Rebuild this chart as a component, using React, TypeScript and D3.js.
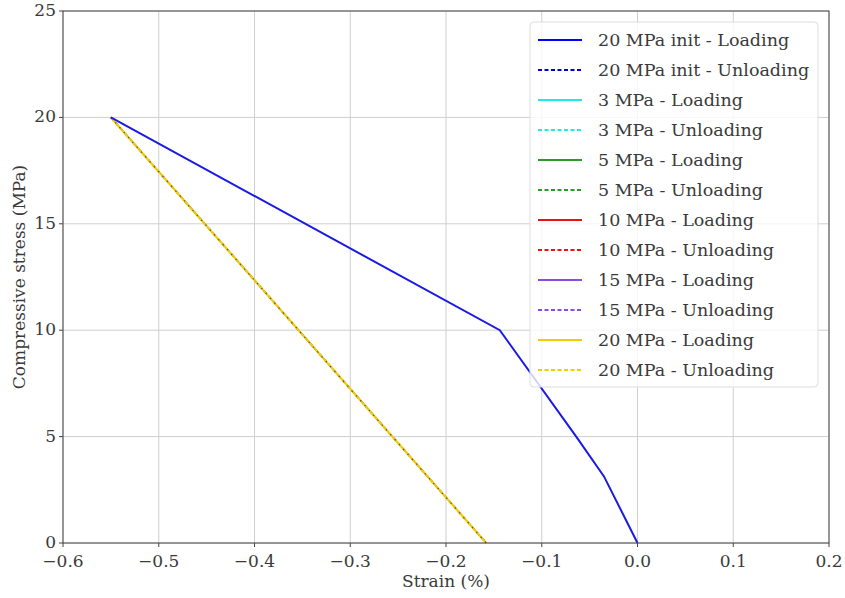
import React from "react";
import * as d3 from "d3";

const xTicks = [-0.6, -0.5, -0.4, -0.3, -0.2, -0.1, 0.0, 0.1, 0.2];
const yTicks = [0, 5, 10, 15, 20, 25];

// 20 MPa init loading (strain %, stress MPa)
const initLoadStrain = [0.0, -0.035, -0.064, -0.1438, -0.55];
const initLoadStress = [0, 3.13, 5.0, 10.0, 20.0];
// 20 MPa init unloading
const initUnloadStrain = [-0.55, -0.158];
const initUnloadStress = [20.0, 0];
// 20 MPa loading / unloading
const load20Strain = [-0.158, -0.55];
const load20Stress = [0, 20.0];
const unload20Strain = [-0.55, -0.158];
const unload20Stress = [20.0, 0];

const legendLabels = [
  "20 MPa init - Loading",
  "20 MPa init - Unloading",
  "3 MPa - Loading",
  "3 MPa - Unloading",
  "5 MPa - Loading",
  "5 MPa - Unloading",
  "10 MPa - Loading",
  "10 MPa - Unloading",
  "15 MPa - Loading",
  "15 MPa - Unloading",
  "20 MPa - Loading",
  "20 MPa - Unloading",
];
const legendColors = [
  "#0000ff", "#0000cc", "#22e8e8", "#22e8e8", "#2a9a2a", "#2a9a2a",
  "#ee1111", "#ee1111", "#8a4be2", "#8a4be2", "#f5cc00", "#f5cc00",
];

const W = 845, H = 598;
const L = 63, R = 829, T = 11, B = 543;
const FONT = "'DejaVu Serif', 'Liberation Serif', serif";

const fmt = (v: number) => {
  const s = v.toFixed(1);
  return v < 0 ? "\u2212" + s.slice(1) : s;
};

const txt = { fontFamily: FONT, fontSize: 17, fill: "#3a3a3a" } as const;
const legTxt = { fontFamily: FONT, fontSize: 17.5, fill: "#3a3a3a" } as const;

export default function App() {
  const x = d3.scaleLinear().domain([-0.6, 0.2]).range([L, R]);
  const y = d3.scaleLinear().domain([0, 25]).range([B, T]);
  const mk = (xs: number[], ys: number[]) =>
    d3.line<number>().x((_, i) => x(xs[i])).y((_, i) => y(ys[i]))(xs) || "";

  return (
    <svg width={W} height={H} style={{ position: "absolute", left: 0, top: 0, background: "#fff" }}>
      {/* grid */}
      {xTicks.map((t) => (
        <line key={"gx" + t} x1={x(t)} x2={x(t)} y1={T} y2={B} stroke="#cfcfcf" strokeWidth={1} />
      ))}
      {yTicks.map((t) => (
        <line key={"gy" + t} x1={L} x2={R} y1={y(t)} y2={y(t)} stroke="#cfcfcf" strokeWidth={1} />
      ))}
      {/* data */}
      <path d={mk(initUnloadStrain, initUnloadStress)} fill="none" stroke="#0000cc" strokeWidth={1.6} strokeDasharray="4,3" />
      <path d={mk(load20Strain, load20Stress)} fill="none" stroke="#f5cc00" strokeWidth={2.2} />
      <path d={mk(unload20Strain, unload20Stress)} fill="none" stroke="#555" strokeWidth={1.2} strokeDasharray="1.5,5" />
      <path d={mk(initLoadStrain, initLoadStress)} fill="none" stroke="#1a1ae6" strokeWidth={2} />
      {/* spines */}
      <rect x={L} y={T} width={R - L} height={B - T} fill="none" stroke="#444" strokeWidth={1} />
      {/* ticks */}
      {xTicks.map((t) => (
        <g key={"tx" + t}>
          <line x1={x(t)} x2={x(t)} y1={B} y2={B + 4} stroke="#444" />
          <text x={x(t)} y={B + 24} textAnchor="middle" style={txt}>
            {fmt(t)}
          </text>
        </g>
      ))}
      {yTicks.map((t) => (
        <g key={"ty" + t}>
          <line x1={L - 4} x2={L} y1={y(t)} y2={y(t)} stroke="#444" />
          <text x={L - 7} y={y(t) + 5} textAnchor="end" style={txt}>
            {t}
          </text>
        </g>
      ))}
      <text x={446} y={587} textAnchor="middle" style={txt}>
        Strain (%)
      </text>
      <text transform={`translate(25,${(T + B) / 2}) rotate(-90)`} textAnchor="middle" style={txt}>
        Compressive stress (MPa)
      </text>
      {/* legend */}
      <rect x={530} y={22} width={288} height={365} rx={4} fill="#fff" fillOpacity={0.8} stroke="#ddd" />
      {legendLabels.map((lab, i) => {
        const yy = 40 + i * 30;
        return (
          <g key={lab}>
            <line x1={538} x2={582} y1={yy} y2={yy} stroke={legendColors[i]} strokeWidth={2}
              strokeDasharray={i % 2 === 1 ? "4,2.5" : undefined} />
            <text x={598} y={yy + 6} style={legTxt}>
              {lab}
            </text>
          </g>
        );
      })}
    </svg>
  );
}
